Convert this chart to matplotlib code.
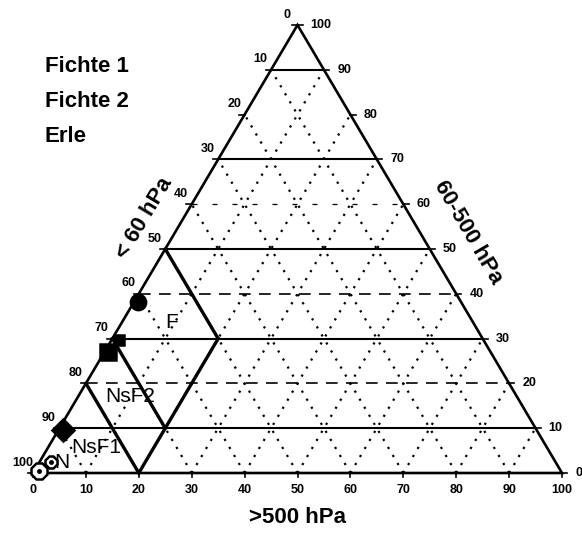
import numpy as np
import matplotlib
matplotlib.use("Agg")
import matplotlib.pyplot as plt

plt.rcParams['font.family'] = ['Liberation Sans', 'DejaVu Sans']

# ---------------- data ----------------
tick_values = [0, 10, 20, 30, 40, 50, 60, 70, 80, 90, 100]
tick_labels = ["0", "10", "20", "30", "40", "50", "60", "70", "80", "90", "100"]
grid_lines = [10, 20, 30, 40, 50, 60, 70, 80, 90]
solid_levels = [10, 30, 50, 70, 90]
dashed_levels = [20, 40]
faint_levels = [60]

legend_names = ["Fichte 1", "Fichte 2", "Erle"]
axis_titles = ["< 60 hPa", "60-500 hPa", ">500 hPa"]

# class boundaries (a = >500 hPa, b = <60 hPa, c = 60-500 hPa)
class_a_max = 20
class_b_bounds = [50, 70, 80]
class_names = ["F", "NsF2", "NsF1", "N"]
class_label_a = [9.4, 9.8, 9.2, 4.2]
class_label_c = [33.7, 17.0, 5.6, 2.4]

# sample points (a, c); b = 100 - a - c
pt_a = [0.7, 0.7, 1.4, 0.9, 1.0, 2.2]
pt_c = [38.2, 27.0, 29.6, 9.6, 0.4, 2.4]
pt_marker = ["o", "s", "s", "D", "8", "8"]
pt_size = [11, 11, 7, 11, 13, 9]
pt_fill = ["black", "black", "black", "black", "white", "white"]

# ---------------- helpers ----------------
def xy(a, c):
    a = np.asarray(a, dtype=float)
    c = np.asarray(c, dtype=float)
    return a + c / 2.0, c

W, H = 582, 536
fig = plt.figure(figsize=(W / 100, H / 100), dpi=100)
ax = fig.add_axes([0, 0, 1, 1])
ax.set_xlim(-33 / 5.29, (W - 33) / 5.29)
ax.set_ylim(-(H - 473) / 4.48, 473 / 4.48)
ax.axis("off")

# dotted grid: constant a and constant b lines
for v in grid_lines:
    x, y = xy([v, v], [0, 100 - v])
    ax.plot(x, y, color="black", lw=1.6, ls=(0, (1, 3.2)), zorder=1)
    x, y = xy([100 - v, 0], [0, 100 - v])
    ax.plot(x, y, color="black", lw=1.6, ls=(0, (1, 3.2)), zorder=1)

# horizontal lines (constant c)
for v in solid_levels:
    x, y = xy([0, 100 - v], [v, v])
    ax.plot(x, y, color="black", lw=1.5, zorder=2)
for v in dashed_levels:
    x, y = xy([0, 100 - v], [v, v])
    ax.plot(x, y, color="black", lw=1.2, ls=(0, (7, 5)), zorder=2)
for v in faint_levels:
    x, y = xy([0, 100 - v], [v, v])
    ax.plot(x, y, color="black", lw=0.9, ls=(0, (4, 12)), zorder=2)

# triangle outline
x, y = xy([0, 100, 0, 0], [0, 0, 100, 0])
ax.plot(x, y, color="black", lw=1.9, zorder=3, solid_joinstyle="miter")

# class boundaries
for bb in class_b_bounds:
    a0, a1 = 0, class_a_max
    x, y = xy([a0, a1], [100 - bb - a0, 100 - bb - a1])
    ax.plot(x, y, color="black", lw=2.4, zorder=4)
x, y = xy([class_a_max, class_a_max],
          [100 - class_b_bounds[0] - class_a_max, 100 - class_b_bounds[-1] - class_a_max])
ax.plot(x, y, color="black", lw=2.4, zorder=4)

# class labels
for name, la, lc in zip(class_names, class_label_a, class_label_c):
    x, y = xy(la, lc)
    ax.text(x, y, name, fontsize=15, ha="center", va="center", zorder=6)

# ticks and tick labels
for v, lab in zip(tick_values, tick_labels):
    # bottom axis (a)
    x, y = xy(v, 0)
    ax.plot([x, x], [y, y - 0.9], color="black", lw=1.2, zorder=3)
    ax.annotate(lab, (x, y), xytext=(0, -12), textcoords="offset points",
                ha="center", va="center", fontsize=9, fontweight="bold")
    # right axis (c)
    x, y = xy(100 - v, v)
    ax.plot([x, x + 1.0], [y, y], color="black", lw=1.2, zorder=3)
    ax.annotate(lab, (x, y), xytext=(9.5, 0), textcoords="offset points",
                ha="left", va="center", fontsize=9, fontweight="bold")
    # left axis (b), 0 at top
    x, y = xy(0, 100 - v)
    ax.plot([x, x - 1.0], [y, y], color="black", lw=1.2, zorder=3)
    ax.annotate(lab, (x, y), xytext=(-7.5, 7.5), textcoords="offset points",
                ha="center", va="center", fontsize=9, fontweight="bold")

# data points
for a, c, m, s, f in zip(pt_a, pt_c, pt_marker, pt_size, pt_fill):
    x, y = xy(a, c)
    ax.plot(x, y, marker=m, ms=s, mfc=f, mec="black", mew=1.8, ls="none", zorder=7)
    if f == "white":
        ax.plot(x, y, marker="o", ms=2.5, color="black", ls="none", zorder=8)

# axis titles
ang_left = np.degrees(np.arctan2(448, 267))
ang_right = -np.degrees(np.arctan2(448, 262))
x, y = xy(0, 53)
ax.annotate(axis_titles[0], (x, y), xytext=(-21, 12.6), textcoords="offset points",
            rotation=ang_left, rotation_mode="anchor", ha="center", va="center",
            fontsize=16, fontweight="bold")
x, y = xy(51, 49)
ax.annotate(axis_titles[1], (x, y), xytext=(25.5, 14.9), textcoords="offset points",
            rotation=ang_right, rotation_mode="anchor", ha="center", va="center",
            fontsize=16, fontweight="bold")
x, y = xy(50, 0)
ax.annotate(axis_titles[2], (x, y), xytext=(0, -32), textcoords="offset points",
            ha="center", va="center", fontsize=16, fontweight="bold")

# legend (text only)
for i, name in enumerate(legend_names):
    ax.text(45 / W, 1 - (67 + 34.5 * i) / H, name, transform=fig.transFigure,
            fontsize=16, fontweight="bold", ha="left", va="center")

fig.savefig("out.png", dpi=100)
